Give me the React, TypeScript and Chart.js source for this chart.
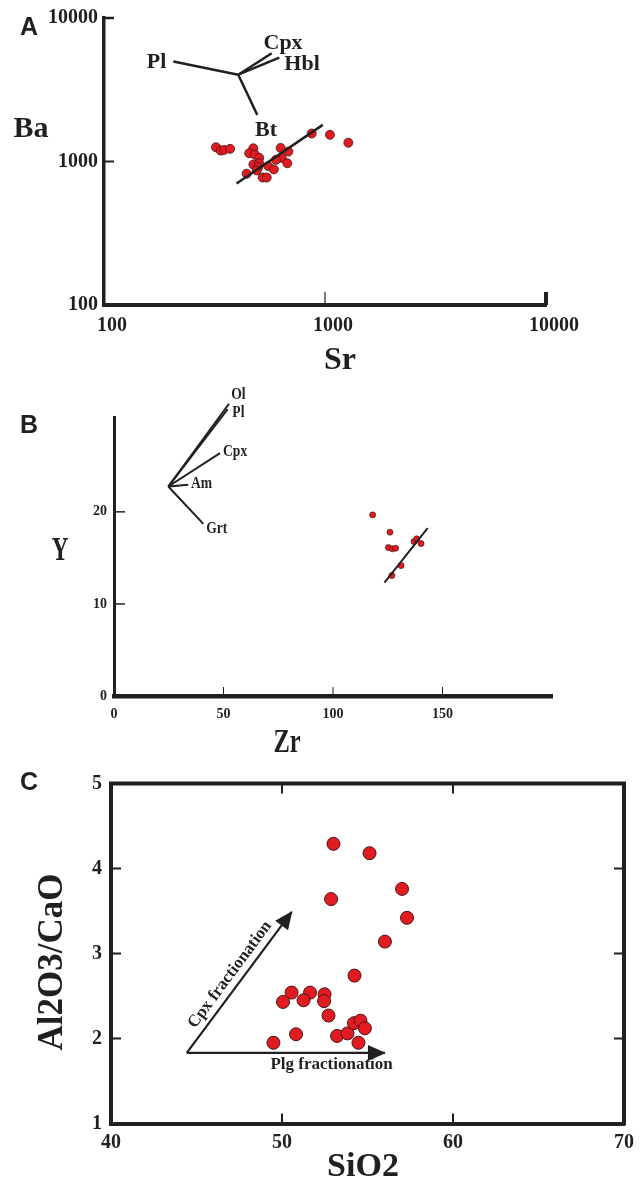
import React, { useEffect, useRef } from 'react';
import { Chart, registerables } from 'chart.js';

Chart.register(...registerables);

const SERIF = "'Liberation Serif', 'Times New Roman', serif";
const SANS = "'Liberation Sans', Arial, sans-serif";
const INK = '#231f20';
const RED = '#e11b22';
const RED_EDGE = '#4b1414';

Chart.defaults.font.family = SERIF;
Chart.defaults.color = INK;

// ---------------- Panel A : Ba vs Sr (log-log) ----------------
const srValues = [321, 337, 350, 372, 474, 454, 482, 504, 474, 504, 499, 554, 587, 442, 491, 522, 545, 630, 683, 637, 600, 675, 871, 1053, 1275];
const baValues = [1256, 1191, 1205, 1225, 1236, 1141, 1117, 1060, 953, 973, 914, 929, 881, 822, 867, 773, 773, 1243, 1172, 1060, 1028, 973, 1567, 1535, 1352];
const srTicks = [100, 1000, 10000];
const baTicks = [100, 1000, 10000];
const aTrendSr = [398, 977];
const aTrendBa = [702, 1800];
const aVectorNames = ['Pl', 'Cpx', 'Hbl', 'Bt'];
const aVectorOriginSr = 405;
const aVectorOriginBa = 4027;
const aVectorEndSr = [206, 574, 621, 494];
const aVectorEndBa = [4973, 5675, 5300, 2109];
const aLabelSr = [173, 646, 787, 541];
const aLabelBa = [4910, 6620, 4743, 1637];

// ---------------- Panel B : Y vs Zr ----------------
const zrValues = [118.1, 126.0, 125.3, 127.1, 128.6, 137.0, 138.2, 140.2, 131.1, 126.9];
const yValues = [19.67, 17.79, 16.12, 15.98, 16.05, 16.77, 17.07, 16.55, 14.16, 13.08];
const zrTicks = [0, 50, 100, 150];
const yTicks = [0, 10, 20];
const bTrendZr = [123.5, 143.2];
const bTrendY = [12.32, 18.23];
const bVectorNames = ['Ol', 'Pl', 'Cpx', 'Am', 'Grt'];
const bVectorOriginZr = 24.8;
const bVectorOriginY = 22.75;
const bVectorEndZr = [52.5, 51.9, 48.4, 33.9, 40.8];
const bVectorEndY = [31.74, 31.16, 26.38, 22.93, 18.7];
const bLabelZr = [56.8, 56.8, 55.3, 40.0, 46.9];
const bLabelY = [32.7, 30.8, 26.55, 23.12, 18.23];

// ---------------- Panel C : Al2O3/CaO vs SiO2 ----------------
const sio2Values = [53.01, 55.12, 57.02, 52.87, 57.31, 56.02, 54.24, 50.56, 51.64, 52.49, 50.06, 51.26, 52.46, 52.72, 49.5, 50.82, 53.22, 53.83, 54.21, 54.59, 54.85, 54.47];
const ratioValues = [4.29, 4.18, 3.76, 3.64, 3.42, 3.14, 2.74, 2.54, 2.54, 2.52, 2.43, 2.45, 2.44, 2.27, 1.95, 2.05, 2.03, 2.06, 2.18, 2.21, 2.12, 1.95];
const sio2Ticks = [40, 50, 60, 70];
const ratioTicks = [1, 2, 3, 4, 5];
const cArrowOrigin = [44.43, 1.83];
const cCpxArrowTip = [50.57, 3.49];
const cPlgArrowTip = [56.02, 1.83];
const cArrowLabels = ['Cpx fractionation', 'Plg fractionation'];
const cArrowLabelSiO2 = [46.96, 52.9];
const cArrowLabelRatio = [2.75, 1.69];

// ---------------- helpers ----------------
type Txt = { text: string; x: number; y: number; font: string; rotation?: number; scaleX?: number };
type TickMark = { axis: 'x' | 'y'; value: number; side: 'start' | 'end'; length: number; width: number };

function drawText(ctx: CanvasRenderingContext2D, t: Txt) {
  ctx.save();
  ctx.translate(t.x, t.y);
  if (t.rotation) ctx.rotate(t.rotation);
  if (t.scaleX) ctx.scale(t.scaleX, 1);
  ctx.font = t.font;
  ctx.fillStyle = INK;
  ctx.textAlign = 'center';
  ctx.textBaseline = 'middle';
  ctx.fillText(t.text, 0, 0);
  ctx.restore();
}

function makeOverlay(spec: { id: string; frame?: number; ticks: TickMark[]; arrows?: number[]; texts: (chart: any) => Txt[] }) {
  return {
    id: 'overlay' + spec.id,
    afterDraw(chart: any) {
      const ctx: CanvasRenderingContext2D = chart.ctx;
      const ca = chart.chartArea;
      const xs = chart.scales.x;
      const ys = chart.scales.y;
      ctx.save();
      ctx.strokeStyle = INK;
      ctx.fillStyle = INK;
      if (spec.frame) {
        const w = spec.frame;
        ctx.lineWidth = w;
        ctx.lineJoin = 'miter';
        ctx.beginPath();
        ctx.moveTo(ca.left - w / 2, ca.top);
        ctx.lineTo(ca.right, ca.top);
        ctx.lineTo(ca.right, ca.bottom + w / 2);
        ctx.stroke();
      }
      for (const t of spec.ticks) {
        ctx.lineWidth = t.width;
        ctx.beginPath();
        if (t.axis === 'x') {
          const px = xs.getPixelForValue(t.value);
          const y0 = t.side === 'start' ? ca.bottom : ca.top;
          const dir = t.side === 'start' ? -1 : 1;
          ctx.moveTo(px, y0);
          ctx.lineTo(px, y0 + dir * t.length);
        } else {
          const py = ys.getPixelForValue(t.value);
          const x0 = t.side === 'start' ? ca.left : ca.right;
          const dir = t.side === 'start' ? 1 : -1;
          ctx.moveTo(x0, py);
          ctx.lineTo(x0 + dir * t.length, py);
        }
        ctx.stroke();
      }
      for (const di of spec.arrows || []) {
        const pts = chart.getDatasetMeta(di).data;
        const a = pts[0];
        const b = pts[pts.length - 1];
        const ang = Math.atan2(b.y - a.y, b.x - a.x);
        ctx.save();
        ctx.translate(b.x, b.y);
        ctx.rotate(ang);
        ctx.beginPath();
        ctx.moveTo(1, 0);
        ctx.lineTo(-17, -8);
        ctx.lineTo(-17, 8);
        ctx.closePath();
        ctx.fill();
        ctx.restore();
      }
      for (const t of spec.texts(chart)) drawText(ctx, t);
      ctx.restore();
    },
  };
}

function lineSet(xs: number[], ys: number[], width: number) {
  return {
    data: xs.map((x, i) => ({ x, y: ys[i] })),
    showLine: true,
    borderColor: INK,
    backgroundColor: INK,
    borderWidth: width,
    pointRadius: 0,
    fill: false,
    clip: false as any,
  };
}

function fixedTicks(values: number[]) {
  return (s: any) => {
    s.ticks = values.map((v) => ({ value: v }));
  };
}

function baseScale(opts: any) {
  return {
    grid: { display: false, drawTicks: false },
    border: { display: true, width: opts.border, color: INK },
    afterBuildTicks: fixedTicks(opts.ticks),
    afterFit: opts.fit,
    ticks: {
      callback: (v: any) => String(v),
      font: { family: SERIF, size: opts.fontSize, weight: 'bold' },
      color: INK,
      padding: opts.padding,
      labelOffset: opts.labelOffset || 0,
      maxRotation: 0,
      autoSkip: false,
    },
    ...opts.extra,
  };
}

const commonOptions = {
  animation: false as const,
  responsive: false,
  events: [] as any[],
  plugins: { legend: { display: false }, tooltip: { enabled: false } },
};

// ---------------- configs ----------------
function configA(): any {
  const vectors = aVectorNames.map((_, i) =>
    lineSet([aVectorOriginSr, aVectorEndSr[i]], [aVectorOriginBa, aVectorEndBa[i]], 2.5)
  );
  return {
    type: 'scatter',
    data: {
      datasets: [
        lineSet(aTrendSr, aTrendBa, 2.5),
        {
          data: srValues.map((x, i) => ({ x, y: baValues[i] })),
          pointRadius: 4.5,
          backgroundColor: RED,
          borderColor: RED_EDGE,
          borderWidth: 0.8,
        },
        ...vectors,
      ],
    },
    options: {
      ...commonOptions,
      layout: { padding: { left: 0, top: 16, right: 98, bottom: 35 } },
      scales: {
        x: baseScale({
          ticks: srTicks, border: 4, fontSize: 20, padding: 9, labelOffset: 8,
          fit: (s: any) => { s.height = 40; },
          extra: { type: 'logarithmic', min: 100, max: 10000 },
        }),
        y: baseScale({
          ticks: baTicks, border: 3.5, fontSize: 20, padding: 6,
          fit: (s: any) => { s.width = 104; },
          extra: { type: 'logarithmic', min: 100, max: 10000 },
        }),
      },
    },
    plugins: [
      makeOverlay({
        id: 'A',
        ticks: [
          { axis: 'y', value: 10000, side: 'start', length: 10, width: 2.5 },
          { axis: 'y', value: 1000, side: 'start', length: 10, width: 2 },
          { axis: 'x', value: 1000, side: 'start', length: 13, width: 1.2 },
          { axis: 'x', value: 10000, side: 'start', length: 13, width: 4 },
        ],
        texts: (chart: any) => [
          { text: 'A', x: 29, y: 28, font: `bold 25px ${SANS}` },
          { text: 'Ba', x: 31, y: 129, font: `bold 30px ${SERIF}` },
          { text: 'Sr', x: 340, y: 361, font: `bold 32px ${SERIF}` },
          ...aVectorNames.map((n, i) => ({
            text: n,
            x: chart.scales.x.getPixelForValue(aLabelSr[i]),
            y: chart.scales.y.getPixelForValue(aLabelBa[i]),
            font: `bold 22px ${SERIF}`,
          })),
        ],
      }),
    ],
  };
}

function configB(): any {
  const vectors = bVectorNames.map((_, i) =>
    lineSet([bVectorOriginZr, bVectorEndZr[i]], [bVectorOriginY, bVectorEndY[i]], 2)
  );
  return {
    type: 'scatter',
    data: {
      datasets: [
        lineSet(bTrendZr, bTrendY, 2),
        {
          data: zrValues.map((x, i) => ({ x, y: yValues[i] })),
          pointRadius: 3,
          backgroundColor: RED,
          borderColor: RED_EDGE,
          borderWidth: 0.7,
        },
        ...vectors,
      ],
    },
    options: {
      ...commonOptions,
      layout: { padding: { left: 0, top: 37, right: 92, bottom: 24 } },
      scales: {
        x: baseScale({
          ticks: zrTicks, border: 4.5, fontSize: 14, padding: 10,
          fit: (s: any) => { s.height = 40; },
          extra: { type: 'linear', min: 0, max: 200 },
        }),
        y: baseScale({
          ticks: yTicks, border: 3, fontSize: 14, padding: 7,
          fit: (s: any) => { s.width = 114; },
          extra: { type: 'linear', min: 0, max: 30.3 },
        }),
      },
    },
    plugins: [
      makeOverlay({
        id: 'B',
        ticks: [
          { axis: 'y', value: 10, side: 'start', length: 11, width: 1.5 },
          { axis: 'y', value: 20, side: 'start', length: 11, width: 1.5 },
          { axis: 'x', value: 50, side: 'start', length: 9, width: 1 },
          { axis: 'x', value: 100, side: 'start', length: 9, width: 1 },
          { axis: 'x', value: 150, side: 'start', length: 9, width: 1 },
        ],
        texts: (chart: any) => [
          { text: 'B', x: 29, y: 46, font: `bold 25px ${SANS}` },
          { text: 'Y', x: 60, y: 171, font: `bold 34px ${SERIF}`, scaleX: 0.68 },
          { text: 'Zr', x: 287, y: 363, font: `bold 34px ${SERIF}`, scaleX: 0.72 },
          ...bVectorNames.map((n, i) => ({
            text: n,
            x: chart.scales.x.getPixelForValue(bLabelZr[i]),
            y: chart.scales.y.getPixelForValue(bLabelY[i]),
            font: `bold 17px ${SERIF}`,
            scaleX: 0.8,
          })),
        ],
      }),
    ],
  };
}

function configC(): any {
  return {
    type: 'scatter',
    data: {
      datasets: [
        {
          data: sio2Values.map((x, i) => ({ x, y: ratioValues[i] })),
          pointRadius: 6.5,
          backgroundColor: RED,
          borderColor: RED_EDGE,
          borderWidth: 1,
        },
        lineSet([cArrowOrigin[0], cCpxArrowTip[0]], [cArrowOrigin[1], cCpxArrowTip[1]], 2.2),
        lineSet([cArrowOrigin[0], cPlgArrowTip[0]], [cArrowOrigin[1], cPlgArrowTip[1]], 2.2),
      ],
    },
    options: {
      ...commonOptions,
      layout: { padding: { left: 0, top: 23.5, right: 20, bottom: 16.5 } },
      scales: {
        x: baseScale({
          ticks: sio2Ticks, border: 4, fontSize: 20, padding: 7,
          fit: (s: any) => { s.height = 40; },
          extra: { type: 'linear', min: 40, max: 70 },
        }),
        y: baseScale({
          ticks: ratioTicks, border: 4, fontSize: 20, padding: 9,
          fit: (s: any) => { s.width = 111; },
          extra: { type: 'linear', min: 1, max: 5 },
        }),
      },
    },
    plugins: [
      makeOverlay({
        id: 'C',
        frame: 4,
        arrows: [1, 2],
        ticks: [
          ...[2, 3, 4].map((v) => ({ axis: 'y' as const, value: v, side: 'start' as const, length: 10, width: 2 })),
          ...[2, 3, 4].map((v) => ({ axis: 'y' as const, value: v, side: 'end' as const, length: 10, width: 2 })),
          ...[50, 60].map((v) => ({ axis: 'x' as const, value: v, side: 'start' as const, length: 10, width: 2 })),
          ...[50, 60].map((v) => ({ axis: 'x' as const, value: v, side: 'end' as const, length: 10, width: 2 })),
        ],
        texts: (chart: any) => {
          const xs = chart.scales.x;
          const ys = chart.scales.y;
          const ox = xs.getPixelForValue(cArrowOrigin[0]);
          const oy = ys.getPixelForValue(cArrowOrigin[1]);
          const tx = xs.getPixelForValue(cCpxArrowTip[0]);
          const ty = ys.getPixelForValue(cCpxArrowTip[1]);
          const ang = Math.atan2(ty - oy, tx - ox);
          return [
            { text: 'C', x: 29, y: 23, font: `bold 25px ${SANS}` },
            { text: 'Al2O3/CaO', x: 53, y: 202, font: `bold 35px ${SERIF}`, rotation: -Math.PI / 2 },
            { text: 'SiO2', x: 363, y: 407, font: `bold 34px ${SERIF}` },
            {
              text: cArrowLabels[0],
              x: xs.getPixelForValue(cArrowLabelSiO2[0]),
              y: ys.getPixelForValue(cArrowLabelRatio[0]),
              font: `bold 17px ${SERIF}`,
              rotation: ang,
            },
            {
              text: cArrowLabels[1],
              x: xs.getPixelForValue(cArrowLabelSiO2[1]),
              y: ys.getPixelForValue(cArrowLabelRatio[1]),
              font: `bold 17px ${SERIF}`,
            },
          ];
        },
      }),
    ],
  };
}

function ChartCanvas({ top, height, make }: { top: number; height: number; make: () => any }) {
  const ref = useRef<HTMLCanvasElement>(null);
  useEffect(() => {
    const chart = new Chart(ref.current as HTMLCanvasElement, make());
    return () => chart.destroy();
  }, [make]);
  return (
    <canvas
      ref={ref}
      width={644}
      height={height}
      style={{ position: 'absolute', left: 0, top, width: 644, height, display: 'block' }}
    />
  );
}

export default function App() {
  return (
    <div style={{ position: 'absolute', left: 0, top: 0, width: 644, height: 1180, background: '#fff', overflow: 'hidden' }}>
      <ChartCanvas top={0} height={380} make={configA} />
      <ChartCanvas top={380} height={380} make={configB} />
      <ChartCanvas top={760} height={420} make={configC} />
    </div>
  );
}
